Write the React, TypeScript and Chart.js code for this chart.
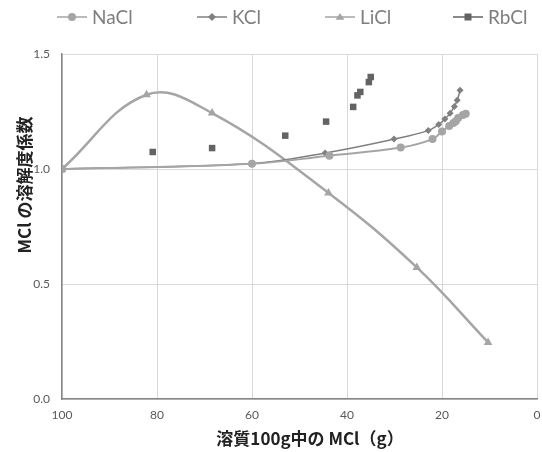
import React, { useEffect, useRef } from "react";
import { Chart, registerables } from "chart.js";

Chart.register(...registerables);

// ---- data ----
const SERIES_NAMES = ["NaCl", "KCl", "LiCl", "RbCl"];

const naclX = [100, 60, 43.7, 28.7, 22.0, 20.0, 18.5, 17.6, 17.1, 16.6, 15.6, 15.0];
const naclY = [1.0, 1.023, 1.058, 1.093, 1.13, 1.163, 1.187, 1.2, 1.208, 1.222, 1.235, 1.24];

const kclX = [100, 60, 44.6, 30.1, 22.9, 20.7, 19.4, 18.3, 17.4, 16.8, 16.2];
const kclY = [1.0, 1.024, 1.07, 1.13, 1.167, 1.193, 1.217, 1.242, 1.272, 1.299, 1.342];

const liclX = [100, 82.2, 68.4, 43.9, 25.3, 10.3];
const liclY = [1.0, 1.323, 1.243, 0.896, 0.572, 0.246];

const rbclX = [100, 80.9, 68.4, 53.0, 44.4, 38.7, 37.8, 37.2, 35.4, 35.0];
const rbclY = [1.0, 1.074, 1.091, 1.145, 1.206, 1.27, 1.32, 1.335, 1.378, 1.4];

const X_TICKS = [0, 20, 40, 60, 80, 100];
const Y_TICKS = [0, 0.5, 1.0, 1.5];

const X_TITLE = "溶質100g中の MCl（g）";
const Y_TITLE = "MCl の溶解度係数";

// ---- styles ----
const COLORS = ["#a5a5a5", "#808080", "#a5a5a5", "#636363"];
const MARKERS = ["circle", "rectRot", "triangle", "rect"];
const LEGEND_CX = [72, 212, 340, 468];

function pts(xs: number[], ys: number[]) {
  return xs.map((x, i) => ({ x, y: ys[i] }));
}

function drawMarker(ctx: CanvasRenderingContext2D, style: string, x: number, y: number, r: number) {
  ctx.beginPath();
  if (style === "circle") {
    ctx.arc(x, y, r, 0, Math.PI * 2);
  } else if (style === "rectRot") {
    ctx.moveTo(x, y - r);
    ctx.lineTo(x + r, y);
    ctx.lineTo(x, y + r);
    ctx.lineTo(x - r, y);
    ctx.closePath();
  } else if (style === "triangle") {
    ctx.moveTo(x, y - r);
    ctx.lineTo(x + r * 1.1, y + r * 0.7);
    ctx.lineTo(x - r * 1.1, y + r * 0.7);
    ctx.closePath();
  } else {
    ctx.rect(x - r, y - r, r * 2, r * 2);
  }
  ctx.fill();
}

const decorPlugin = {
  id: "decor",
  afterDraw(chart: any) {
    const ctx: CanvasRenderingContext2D = chart.ctx;
    ctx.save();
    // legend
    const ly = 17;
    SERIES_NAMES.forEach((name, i) => {
      const cx = LEGEND_CX[i];
      ctx.strokeStyle = COLORS[i];
      ctx.fillStyle = COLORS[i];
      ctx.lineWidth = 1.5;
      ctx.beginPath();
      ctx.moveTo(cx - 15, ly);
      ctx.lineTo(cx + 15, ly);
      ctx.stroke();
      drawMarker(ctx, MARKERS[i], cx, ly, MARKERS[i] === "rect" ? 3.5 : 4);
      ctx.fillStyle = "#7f7f7f";
      ctx.font = "19px Lato";
      ctx.textBaseline = "middle";
      ctx.textAlign = "left";
      ctx.fillText(name, cx + 20, ly + 1);
    });
    // axis titles
    ctx.fillStyle = "#222222";
    ctx.font = 'bold 17px "Noto Sans CJK JP"';
    ctx.textAlign = "center";
    ctx.textBaseline = "middle";
    ctx.fillText(X_TITLE, 310, 439);
    ctx.translate(25, 185);
    ctx.rotate(-Math.PI / 2);
    ctx.fillText(Y_TITLE, 0, 0);
    ctx.restore();
  },
};

export default function App() {
  const ref = useRef<HTMLCanvasElement | null>(null);
  useEffect(() => {
    if (!ref.current) return;
    const mk = (i: number, xs: number[], ys: number[], extra: any) => ({
      label: SERIES_NAMES[i],
      data: pts(xs, ys),
      borderColor: COLORS[i],
      backgroundColor: COLORS[i],
      pointBackgroundColor: COLORS[i],
      pointBorderColor: COLORS[i],
      pointStyle: MARKERS[i],
      pointBorderWidth: 0,
      showLine: true,
      tension: 0.4,
      ...extra,
    });
    const chart = new Chart(ref.current, {
      type: "scatter",
      data: {
        datasets: [
          mk(0, naclX, naclY, { borderWidth: 2, pointRadius: 4 }),
          mk(1, kclX, kclY, { borderWidth: 1.5, pointRadius: 3.5 }),
          mk(2, liclX, liclY, { borderWidth: 2.5, pointRadius: 5 }),
          mk(3, rbclX, rbclY, { showLine: false, pointRadius: 4.6 }),
        ],
      },
      options: {
        animation: false,
        responsive: false,
        devicePixelRatio: 1,
        layout: { padding: { left: 0, right: 4, top: 54, bottom: 0 } },
        plugins: { legend: { display: false }, tooltip: { enabled: false } },
        scales: {
          x: {
            type: "linear",
            min: 0,
            max: 100,
            reverse: true,
            afterFit: (s: any) => {
              s.height = 53;
              s.paddingLeft = 0;
              s.paddingRight = 0;
            },
            afterBuildTicks: (s: any) => {
              s.ticks = X_TICKS.map((v) => ({ value: v }));
            },
            ticks: {
              color: "#595959",
              font: { family: "Lato", size: 12 },
              padding: 9,
              maxRotation: 0,
              callback: (v: any) => String(v),
            },
            grid: { color: "#d9d9d9", lineWidth: 1, drawTicks: false },
            border: { color: "#868686", width: 1.5 },
          },
          y: {
            type: "linear",
            min: 0,
            max: 1.5,
            afterFit: (s: any) => {
              s.width = 62;
            },
            afterBuildTicks: (s: any) => {
              s.ticks = Y_TICKS.map((v) => ({ value: v }));
            },
            ticks: {
              color: "#595959",
              font: { family: "Lato", size: 12 },
              padding: 12,
              callback: (v: any) => Number(v).toFixed(1),
            },
            grid: { color: "#d9d9d9", lineWidth: 1, drawTicks: false },
            border: { color: "#868686", width: 1.5 },
          },
        },
      },
      plugins: [decorPlugin],
    } as any);
    return () => chart.destroy();
  }, []);
  return (
    <div style={{ position: "fixed", left: 0, top: 0, width: 542, height: 452, background: "#fff" }}>
      <canvas ref={ref} width={542} height={452} style={{ display: "block", width: 542, height: 452 }} />
    </div>
  );
}
